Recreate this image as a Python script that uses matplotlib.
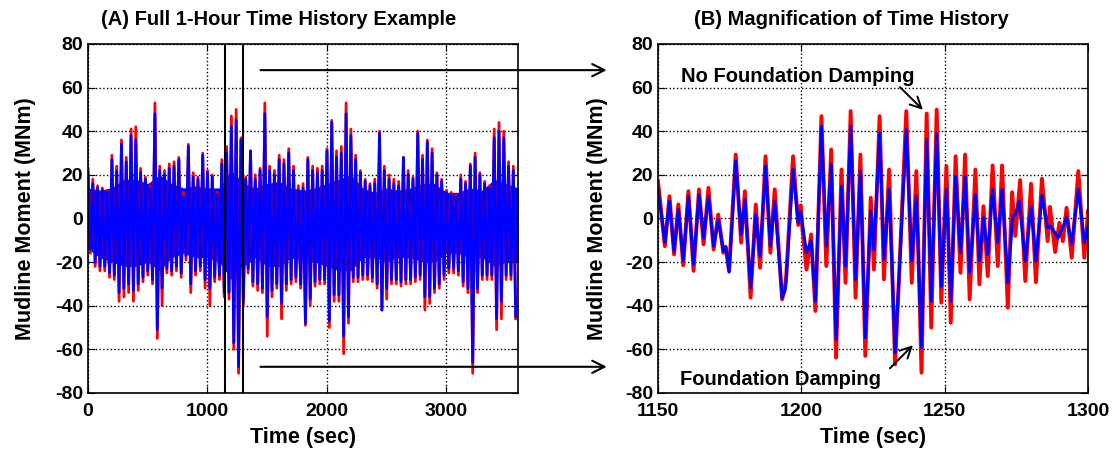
import matplotlib
matplotlib.use("Agg")
import matplotlib.pyplot as plt
import numpy as np

plt.rcParams['font.family'] = ['Liberation Sans', 'DejaVu Sans']
plt.rcParams['font.weight'] = 'bold'
plt.rcParams['axes.unicode_minus'] = False

# ---- panel A: peaks and troughs of the 1-hour record
t_up = np.arange(0, 3600, 40)
t_lo = np.arange(20, 3600, 40)
blue_up = [21, 16, 14, 13, 12, 27, 22, 34, 26, 38, 36, 21, 18, 14, 48, 22, 20, 23,
           24, 27, 10, 33, 19, 18, 29, 21, 19, 11, 25, 30, 42, 45, 36, 18, 31, 18,
           22, 48, 22, 20, 27, 25, 30, 22, 13, 14, 27, 22, 21, 22, 31, 44, 28, 30,
           48, 38, 27, 21, 17, 15, 16, 39, 22, 18, 16, 15, 28, 20, 18, 39, 27, 35,
           30, 20, 17, 12, 11, 10, 18, 16, 24, 28, 20, 16, 14, 37, 40, 37, 24, 22]
red_up = [23, 18, 15, 14, 13, 29, 24, 36, 28, 41, 42, 23, 19, 15, 53, 24, 22, 25,
          26, 28, 12, 34, 21, 19, 30, 22, 20, 12, 27, 33, 47, 50, 37, 19, 31, 20,
          23, 53, 24, 22, 29, 27, 32, 24, 15, 16, 28, 24, 23, 24, 32, 45, 31, 33,
          53, 41, 29, 22, 18, 16, 18, 40, 24, 20, 18, 17, 28, 22, 19, 40, 29, 36,
          32, 21, 18, 13, 12, 11, 20, 17, 25, 30, 21, 17, 15, 41, 44, 40, 26, 24]
blue_lo = [-14, -20, -22, -22, -25, -26, -34, -32, -30, -33, -30, -27, -24, -28, -51,
           -32, -23, -24, -22, -25, -17, -30, -24, -22, -28, -32, -27, -26, -34, -34,
           -57, -68, -38, -23, -29, -30, -32, -45, -33, -30, -39, -30, -28, -27, -30,
           -48, -37, -29, -28, -28, -47, -35, -35, -54, -45, -27, -27, -26, -26, -27,
           -30, -42, -32, -28, -28, -29, -28, -28, -27, -26, -36, -36, -32, -30, -26,
           -23, -23, -24, -29, -32, -66, -32, -26, -26, -26, -46, -38, -26, -26, -45]
red_lo = [-16, -22, -24, -24, -27, -28, -38, -36, -34, -38, -33, -29, -26, -30, -55,
          -40, -25, -26, -24, -27, -19, -34, -26, -24, -32, -40, -29, -28, -36, -37,
          -60, -71, -40, -25, -31, -33, -34, -54, -36, -32, -46, -33, -30, -29, -32,
          -49, -40, -31, -30, -30, -50, -38, -38, -62, -48, -29, -29, -28, -28, -29,
          -32, -42, -37, -30, -30, -31, -30, -30, -29, -28, -42, -39, -34, -32, -28,
          -25, -25, -26, -31, -34, -71, -34, -28, -28, -28, -51, -46, -28, -28, -46]
# solid core of the band (where single cycles can no longer be told apart)
t_core = np.arange(0, 3601, 100)
core_up = [14, 13, 14, 18, 18, 16, 20, 16, 14, 15, 14, 14, 22, 16, 14, 16, 17, 14, 13,
           14, 16, 18, 20, 14, 12, 14, 13, 14, 16, 16, 12, 12, 14, 13, 18, 16, 14]
core_lo = [-14, -18, -20, -22, -22, -20, -24, -18, -16, -18, -18, -20, -28, -22, -18,
           -22, -22, -18, -20, -20, -22, -24, -24, -18, -18, -20, -18, -18, -20, -20,
           -16, -16, -18, -18, -22, -20, -20]

# ---- panel B: peaks/troughs read from the magnified window
t_blue = [1150.0, 1152.4, 1154.0, 1155.6, 1157.1, 1158.8, 1160.6, 1162.4, 1164.3, 1165.9,
          1167.6, 1169.4, 1171.0, 1172.8, 1173.6, 1174.8, 1177.1, 1179.0, 1180.3, 1182.3,
          1184.1, 1185.6, 1187.5, 1189.2, 1190.7, 1193.3, 1194.3, 1194.7, 1197.1, 1198.9,
          1199.8, 1200.4, 1201.8, 1203.4, 1204.9, 1207.0, 1208.7, 1210.4, 1212.1, 1214.0,
          1215.4, 1217.2, 1218.9, 1220.6, 1222.3, 1224.2, 1225.3, 1227.3, 1228.8, 1230.6,
          1232.7, 1234.1, 1236.6, 1238.5, 1240.1, 1241.9, 1243.7, 1245.3, 1247.2, 1248.8,
          1250.6, 1252.1, 1253.8, 1255.5, 1257.1, 1258.7, 1260.7, 1262.1, 1263.5, 1265.0,
          1266.7, 1268.5, 1270.0, 1272.0, 1273.7, 1274.6, 1276.0, 1278.1, 1280.1, 1281.8,
          1283.9, 1285.9, 1286.8, 1287.7, 1288.5, 1289.5, 1290.5, 1291.5, 1292.5, 1294.3,
          1296.6, 1298.7, 1300.0]
m_blue = [14, -11.1, 7.9, -15.0, 4.1, -19.5, 10.2, -21, 11, -8.9,
          10.2, -12.7, -0.5, -15, -13, -24.6, 26.3, -7.3, 8.7, -31.8,
          1.8, -17.3, 24, -12.7, 7.9, -36.3, -33, -28, 22.4, -2,
          3, -3, -15.7, -10.4, -37.9, 42.3, -12.7, 24.7, -55.4, 14.8,
          -21.8, 42.3, -27.9, 21.7, -54.7, 3.4, -14.2, 39.2, -18.8, 13.3,
          -61.5, -26, 40.8, -19.5, 10.2, -59.2, 36.2, -37.9, 39.2, -31,
          13.3, -37.9, 19.4, -15.7, 19.1, -24.9, 11, -19.5, 0.3, -16.5,
          13.3, -11.1, 13.3, -29.5, 1, 1.5, 7.9, -19.5, 5.6, -19.5,
          10.5, -4.3, -3.5, -5, -6.6, -9, -6, -3, 0.6, -11.5,
          13.3, -11.1, -3.5]
t_red = [1150.0, 1152.4, 1154.0, 1155.6, 1157.1, 1158.8, 1160.6, 1162.4, 1164.3, 1165.9,
         1167.6, 1169.4, 1171.0, 1172.8, 1173.6, 1174.8, 1177.1, 1179.0, 1180.3, 1182.3,
         1184.1, 1185.6, 1187.5, 1189.2, 1190.7, 1193.3, 1194.3, 1194.7, 1197.1, 1198.9,
         1199.8, 1200.4, 1201.8, 1203.4, 1204.9, 1207.0, 1208.7, 1210.4, 1212.1, 1214.0,
         1215.4, 1217.2, 1218.9, 1220.6, 1222.3, 1224.2, 1225.3, 1227.3, 1228.8, 1230.6,
         1232.7, 1234.1, 1236.6, 1238.5, 1240.1, 1241.9, 1243.7, 1245.3, 1247.2, 1248.8,
         1250.6, 1252.1, 1253.8, 1255.5, 1257.1, 1258.7, 1260.7, 1262.1, 1263.5, 1265.0,
         1266.7, 1268.5, 1270.0, 1272.0, 1273.5, 1274.6, 1276.3, 1278.1, 1280.1, 1281.8,
         1283.9, 1285.9, 1286.7, 1288.5, 1290.0, 1291.2, 1292.5, 1294.3, 1296.6, 1298.7,
         1300.0]
m_red = [17, -12.7, 10.2, -16.5, 6.4, -21.5, 12.5, -24, 13.3, -11.9,
         14, -14.2, 1.8, -15.7, -13, -24, 29.3, -11.1, 12.5, -36.3,
         6.4, -22.6, 28.5, -15.7, 13.3, -37.1, -31, -27, 28.5, -3,
         6, -5, -23.4, -7.3, -42.4, 46.9, -21.8, 31.6, -63.8, 22.4,
         -29.5, 49.2, -36.3, 29.3, -63, 9.5, -23.4, 46.9, -27.9, 22.4,
         -66.9, -26, 49.2, -29.5, 21.7, -70.7, 48.1, -50, 49.9, -38.6,
         24, -47.8, 28.5, -24.9, 29.3, -37.1, 22.4, -30.2, 5.6, -26.4,
         24.3, -21.8, 24.3, -40.9, 12, -8, 17.6, -28.7, 15.9, -29.2,
         18.2, -10.4, 5.3, -15.4, -2, -10.4, 4.9, -18, 21.7, -18,
         3.4]

yticks = [-80, -60, -40, -20, 0, 20, 40, 60, 80]


def zigzag(t_a, a, t_b, b):
    # interleave peak and trough samples into one trace
    t = np.empty(len(t_a) + len(t_b))
    v = np.empty_like(t)
    t[0::2], v[0::2] = t_a, a
    t[1::2], v[1::2] = t_b, b
    return t, v


fig = plt.figure(figsize=(11.2, 4.58), dpi=100)
ax1 = fig.add_axes([0.0786, 0.142, 0.384, 0.762])
ax2 = fig.add_axes([0.5875, 0.142, 0.384, 0.762])

tr, vr = zigzag(t_up, red_up, t_lo, red_lo)
ax1.plot(tr, vr, color='red', lw=2.0)
tb, vb = zigzag(t_up, blue_up, t_lo, blue_lo)
ax1.plot(tb, vb, color='blue', lw=2.0)
ax1.fill_between(t_core, core_lo, core_up, color='blue', lw=0)
ax1.axvline(1150, color='k', lw=1.5)
ax1.axvline(1300, color='k', lw=1.5)
ax1.set_xlim(0, 3600)
ax1.set_xticks([0, 1000, 2000, 3000])
ax1.set_title('(A) Full 1-Hour Time History Example', fontsize=14.5, fontweight='bold',
              pad=14, x=0.442)

ax2.plot(t_red, m_red, color='red', lw=2.8, solid_joinstyle='round')
ax2.plot(t_blue, m_blue, color='blue', lw=2.2, solid_joinstyle='round')
ax2.set_xlim(1150, 1300)
ax2.set_xticks([1150, 1200, 1250, 1300])
ax2.set_title('(B) Magnification of Time History', fontsize=14.5, fontweight='bold',
              pad=14, x=0.449)

for ax, lp in ((ax1, 14), (ax2, 12)):
    ax.set_ylim(-80, 80)
    ax.set_yticks(yticks)
    ax.grid(True, linestyle=':', color='k', lw=1.0)
    ax.tick_params(direction='in', top=True, right=True, labelsize=14, length=5)
    ax.tick_params(axis='x', pad=7)
    ax.set_xlabel('Time (sec)', fontsize=15.5, fontweight='bold', labelpad=5)
    ax.set_ylabel('Mudline Moment (MNm)', fontsize=15.5, fontweight='bold', labelpad=lp)
    for sp in ax.spines.values():
        sp.set_linewidth(1.2)

arrow = dict(arrowstyle='->', color='k', lw=1.5, mutation_scale=22)
ax1.annotate('', xy=(4365, 68), xytext=(1420, 68), arrowprops=arrow, annotation_clip=False)
ax1.annotate('', xy=(4365, -68), xytext=(1420, -68), arrowprops=arrow, annotation_clip=False)

small_arrow = dict(arrowstyle='->', color='k', lw=1.4, mutation_scale=20)
ax2.text(1198.8, 65, 'No Foundation Damping', ha='center', va='center',
         fontsize=14.5, fontweight='bold')
ax2.annotate('', xy=(1243.1, 48.9), xytext=(1233.7, 61.1), arrowprops=small_arrow)
ax2.text(1192.6, -74, 'Foundation Damping', ha='center', va='center',
         fontsize=14.5, fontweight='bold')
ax2.annotate('', xy=(1239.6, -57.2), xytext=(1230.2, -69.6), arrowprops=small_arrow)

fig.savefig('out.png', dpi=100)
